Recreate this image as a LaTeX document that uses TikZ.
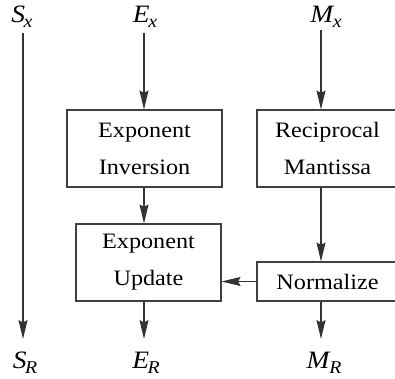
\documentclass[tikz,border=0pt]{standalone}
\usepackage{fontspec}
\setmainfont{Liberation Serif}[FakeStretch=1.1]
\usetikzlibrary{arrows.meta}
\newcommand\sublab[2]{\textit{#1}\kern-1.5pt\raisebox{-5pt}{\fontsize{18}{18}\selectfont\textit{#2}}}
\tikzset{
  box/.style={draw=black!75, line width=1.1pt, inner sep=0pt, align=center,
    font=\fontsize{22}{37}\selectfont},
  lab/.style={inner sep=0pt, font=\fontsize{25}{25}\selectfont},
  flow/.style={draw=black!80, line width=1.1pt, -{Stealth[length=19pt,width=9pt,inset=2.5pt]}},
  plain/.style={draw=black!80, line width=1.1pt}
}
\begin{document}
\begin{tikzpicture}[x=1pt,y=-1pt]
\useasboundingbox (0,0) rectangle (395,378);
\clip (0,0) rectangle (395,378);
% labels
\node[lab] (sx) at (22,17) {\sublab{S}{x}};
\node[lab] (ex) at (145,17) {\sublab{E}{x}};
\node[lab] (mx) at (326,17) {\sublab{M}{x}};
\node[lab] (sr) at (25,363) {\sublab{S}{R}};
\node[lab] (er) at (146,363) {\sublab{E}{R}};
\node[lab] (mr) at (324,363) {\sublab{M}{R}};
% boxes
\node[box, minimum width=155pt, minimum height=77pt] (inv) at (144.5,148.5) {Exponent\\Inversion};
\node[box, minimum width=145pt, minimum height=77pt] (upd) at (148.5,262.5) {Exponent\\Update};
\node[box, minimum width=141pt, minimum height=77pt] (rec) at (327.5,148.5) {Reciprocal\\Mantissa};
\node[box, minimum width=141pt, minimum height=39pt] (nrm) at (327.5,281.5) {Normalize};
% coordinates
\coordinate (s0) at (23,33);
\coordinate (s1) at (23,339);
\coordinate (e0) at (144,33);
\coordinate (m0) at (321,30);
\coordinate (e1) at (144,339);
\coordinate (m1) at (321,339);
% connectors
\draw[flow] (s0) -- (s1);
\draw[flow] (e0) -- (e0 |- inv.north);
\draw[flow] (inv.south -| e0) -- (upd.north -| e0);
\draw[flow] (upd.south -| e0) -- (e1);
\draw[flow] (m0) -- (m0 |- rec.north);
\draw[flow] (rec.south -| m0) -- (nrm.north -| m0);
\draw[flow] (nrm.south -| m0) -- (m1);
\draw[flow] (nrm.west) -- (upd.east |- nrm.west);
\end{tikzpicture}
\end{document}
